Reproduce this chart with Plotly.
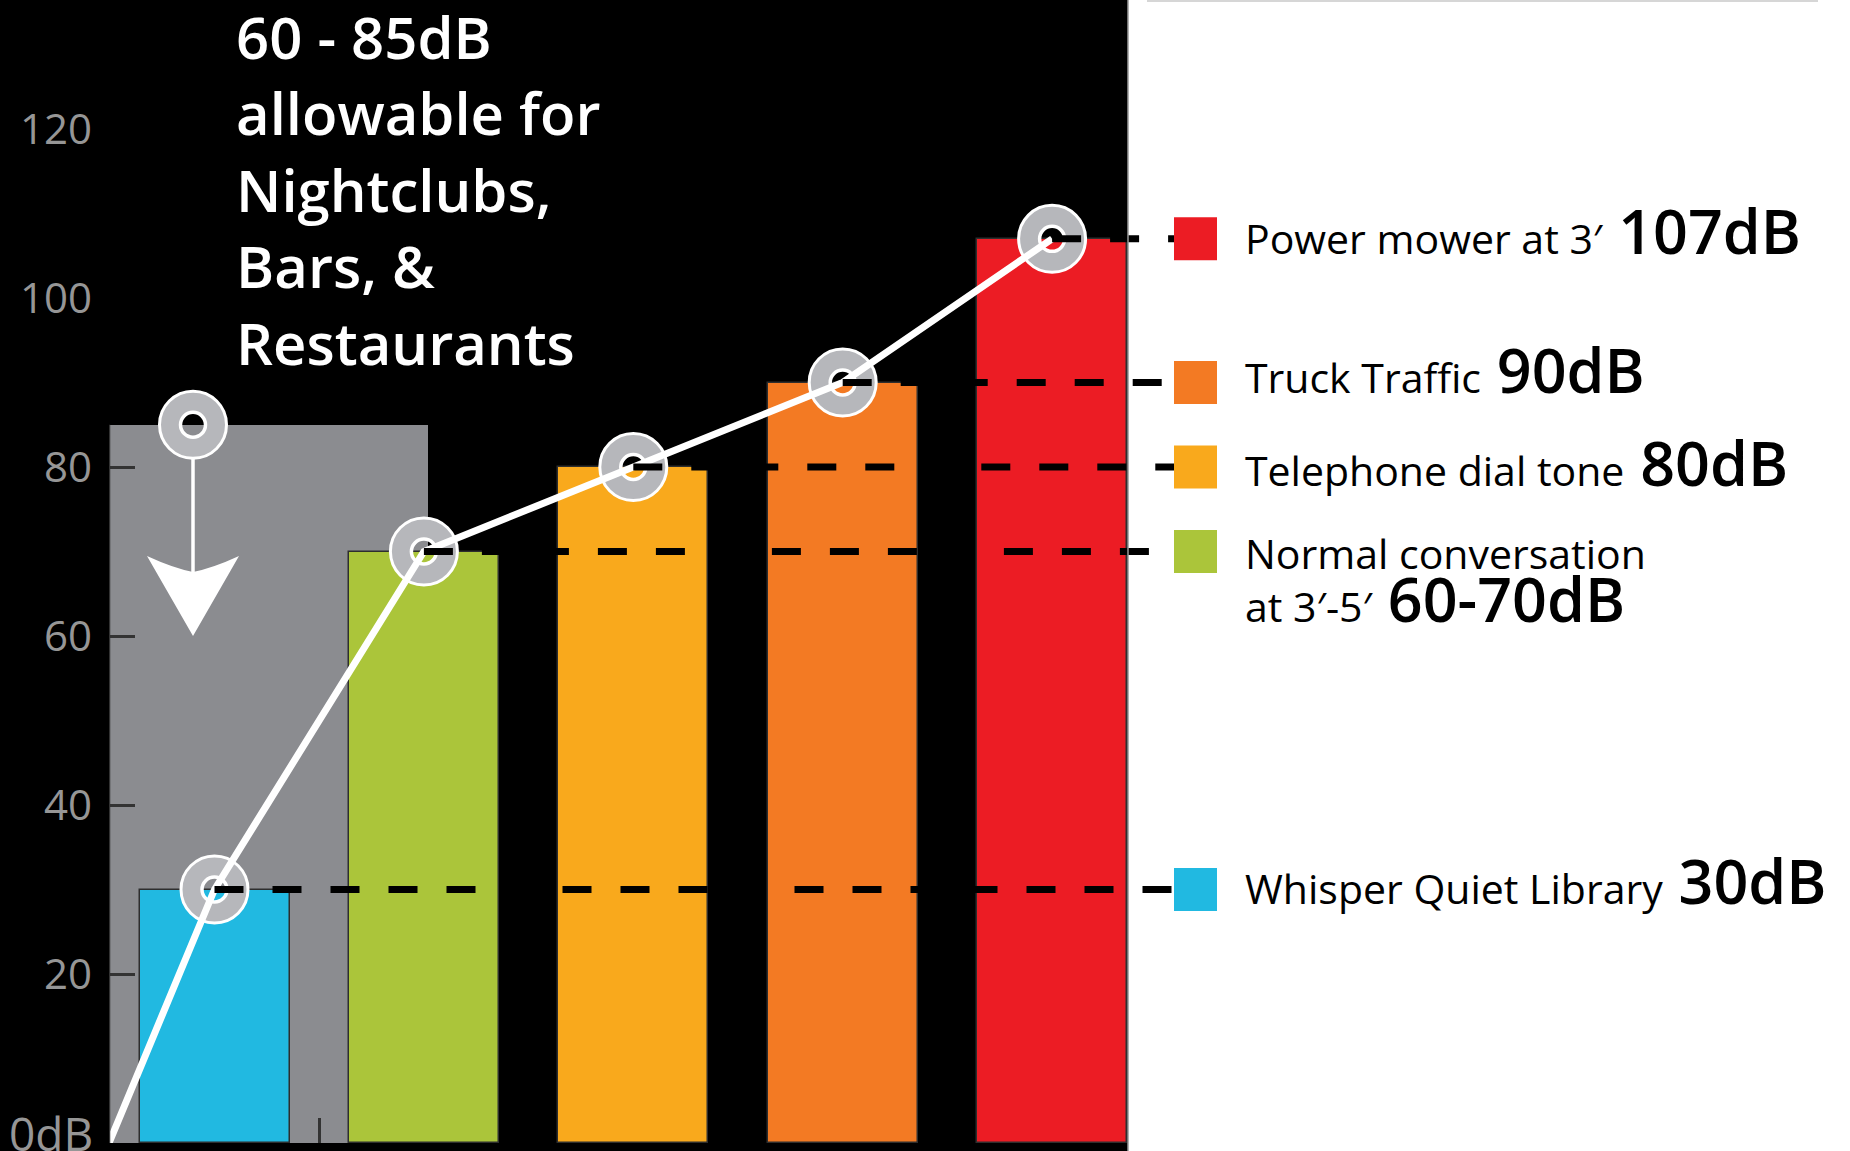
import plotly.graph_objects as go

# ---------------- data ----------------
categories = ["Whisper Quiet Library", "Normal conversation", "Telephone dial tone",
              "Truck Traffic", "Power mower at 3′"]
db_values = [30, 70, 80, 90, 107]
bar_colors = ["#21b9e1", "#abc53a", "#f9a91c", "#f37a23", "#ec1c24"]
db_labels = ["30dB", "60-70dB", "80dB", "90dB", "107dB"]
second_line_prefix = "at 3′-5′"          # second line of the "Normal conversation" entry
allow_low, allow_high = 60, 85            # allowable band for nightclubs etc.
tick_vals = [20, 40, 60, 80, 100, 120]
tick_text = ["20", "40", "60", "80", "100", "120"]
zero_label = "0dB"
title_lines = ["60 - 85dB", "allowable for", "Nightclubs,", "Bars, &", "Restaurants"]

# ---------------- geometry (pixel layout) ----------------
W, H = 1850, 1151
AX_LEFT_PX = 109          # y-axis line position
BASE_PX = 1143            # y = 0 position
X0_PX = 214.5             # centre of first bar
PX_PER_X = 209.4
PX_PER_Y = 8.45
BLACK_RIGHT_PX = 1128

def px_to_x(px):
    return (px - X0_PX) / PX_PER_X

def px_to_y(py):
    return (BASE_PX - py) / PX_PER_Y

x_min = px_to_x(AX_LEFT_PX)
x_max = px_to_x(W)
y_max = BASE_PX / PX_PER_Y
idx = list(range(len(db_values)))
bar_w = 150 / PX_PER_X
box_right = px_to_x(428)
marker_x0 = px_to_x(193)
dash_end = px_to_x(1174)
sq_x = px_to_x(1195.5)
label_x = px_to_x(1243)
# small vertical nudges of the legend text rows (in dB units)
row_shift = {"30dB": 1.1, "80dB": 0.5, "90dB": 1.5, "107dB": 1.0}

FONT = "Open Sans"
AXC = "#333333"
fig = go.Figure()

# allowable band box (gray)
fig.add_trace(go.Bar(
    x=[(x_min + box_right) / 2], y=[allow_high], width=[box_right - x_min],
    marker=dict(color="#8b8c90", line=dict(width=0)), hoverinfo="skip"))

# bars
fig.add_trace(go.Bar(
    x=idx, y=db_values, width=bar_w,
    marker=dict(color=bar_colors, line=dict(width=1.5, color="#2e2e2e")),
    customdata=categories, hovertemplate="%{customdata}: %{y} dB<extra></extra>"))

# marker points
mx = [marker_x0] + idx
my = [allow_high] + db_values
ring = "#b6b7bb"
fig.add_trace(go.Scatter(x=mx, y=my, mode="markers", hoverinfo="skip",
                         marker=dict(symbol="circle-open", size=45, color=ring,
                                     line=dict(width=21, color=ring))))
fig.add_trace(go.Scatter(x=mx, y=my, mode="markers", hoverinfo="skip",
                         marker=dict(symbol="circle-open", size=67, color="white",
                                     line=dict(width=3, color="white"))))
fig.add_trace(go.Scatter(x=mx, y=my, mode="markers", hoverinfo="skip",
                         marker=dict(symbol="circle-open", size=25, color="white",
                                     line=dict(width=3.5, color="white"))))

# white connecting line
fig.add_trace(go.Scatter(x=[x_min] + idx, y=[0] + db_values, mode="lines",
                         line=dict(color="white", width=7), hoverinfo="skip"))

# dashed reference lines
for i, v in zip(idx, db_values):
    fig.add_trace(go.Scatter(x=[i, dash_end], y=[v, v], mode="lines", hoverinfo="skip",
                             line=dict(color="black", width=7, dash="29px,29px")))

# legend squares
fig.add_trace(go.Scatter(x=[sq_x] * len(db_values), y=db_values, mode="markers",
                         hoverinfo="skip",
                         marker=dict(symbol="square", size=43, color=bar_colors,
                                     line=dict(width=0))))

shapes = []
pw = W - AX_LEFT_PX
# black background of the chart panel
shapes.append(dict(type="rect", xref="paper", yref="paper",
                   x0=-AX_LEFT_PX / pw, x1=(BLACK_RIGHT_PX - AX_LEFT_PX) / pw,
                   y0=-(H - BASE_PX) / BASE_PX, y1=1, fillcolor="black",
                   line=dict(width=0), layer="below"))
shapes.append(dict(type="line", xref="paper", yref="paper",
                   x0=(BLACK_RIGHT_PX - AX_LEFT_PX) / pw, x1=(BLACK_RIGHT_PX - AX_LEFT_PX) / pw,
                   y0=-(H - BASE_PX) / BASE_PX, y1=1,
                   line=dict(color="#9a9a9a", width=1.5), layer="above"))
shapes.append(dict(type="line", xref="paper", yref="paper",
                   x0=(1147 - AX_LEFT_PX) / pw, x1=(1818 - AX_LEFT_PX) / pw,
                   y0=1 - 1 / BASE_PX, y1=1 - 1 / BASE_PX,
                   line=dict(color="#d6d6d6", width=2), layer="above"))
# y-axis line (only visible on the gray band)
shapes.append(dict(type="line", xref="x", yref="y", x0=x_min, x1=x_min,
                   y0=0, y1=allow_high, line=dict(color=AXC, width=2.5), layer="above"))
# downward arrow from the top of the allowable band
shapes.append(dict(type="line", xref="x", yref="y",
                   x0=marker_x0, x1=marker_x0,
                   y0=allow_high - 34 / PX_PER_Y, y1=allow_low + 60 / PX_PER_Y,
                   line=dict(color="white", width=3.5), layer="above"))
shapes.append(dict(type="path", xref="x", yref="y", xsizemode="pixel", ysizemode="pixel",
                   xanchor=marker_x0, yanchor=allow_low,
                   path="M0,0 L-46,80 Q-20,68 0,64 Q20,68 46,80 Z",
                   fillcolor="white", line=dict(width=0), layer="above"))

annotations = []
# title block
for k, t in enumerate(title_lines):
    cy = 36 + 76.5 * k
    annotations.append(dict(x=px_to_x(234), y=px_to_y(cy), xref="x", yref="y",
                            text=t, showarrow=False, xanchor="left", yanchor="middle",
                            font=dict(family=FONT, size=58, color="white", weight=600)))
# zero label (paper coords: it sits left of the axis)
annotations.append(dict(x=(95 - AX_LEFT_PX) / pw, y=(BASE_PX - 1133) / BASE_PX,
                        xref="paper", yref="paper",
                        text=zero_label, showarrow=False, xanchor="right", yanchor="middle",
                        font=dict(family=FONT, size=46, color="#969696")))

SMALL, BIG = 41, 61
for name, v, lab in zip(categories, db_values, db_labels):
    big = f"<span style='font-size:{BIG}px;font-weight:600'> {lab}</span>"
    if lab == "60-70dB":
        txt = f"{name}<br>{second_line_prefix}{big}"
        yy = px_to_y(582)
    else:
        txt = f"{name}{big}"
        yy = v + row_shift[lab]
    annotations.append(dict(x=label_x, y=yy, xref="x", yref="y", text=txt,
                            showarrow=False, xanchor="left", yanchor="middle", align="left",
                            font=dict(family=FONT, size=SMALL, color="black")))

fig.update_layout(
    width=W, height=H,
    margin=dict(l=AX_LEFT_PX, r=0, t=0, b=H - BASE_PX, pad=0),
    paper_bgcolor="white", plot_bgcolor="rgba(0,0,0,0)",
    barmode="overlay", bargap=0, showlegend=False,
    shapes=shapes, annotations=annotations,
    xaxis=dict(range=[x_min, x_max], showgrid=False, zeroline=False,
               showticklabels=False, ticks="inside", tickvals=[0.5],
               ticklen=25, tickwidth=2.5, tickcolor=AXC, showline=False),
    yaxis=dict(range=[0, y_max], showgrid=False, zeroline=False, showline=False,
               ticks="", tickvals=tick_vals, ticktext=tick_text, ticklabelstandoff=16,
               tickfont=dict(family=FONT, size=42, color="#969696"),
               minor=dict(tickmode="array", tickvals=[v for v in tick_vals if v < allow_high],
                          ticks="inside", ticklen=26, tickwidth=2.5, tickcolor=AXC,
                          showgrid=False)),
)

fig.write_html("out.html", config={"displayModeBar": False},
               post_script="document.body.style.margin='0';document.body.style.overflow='hidden';")
